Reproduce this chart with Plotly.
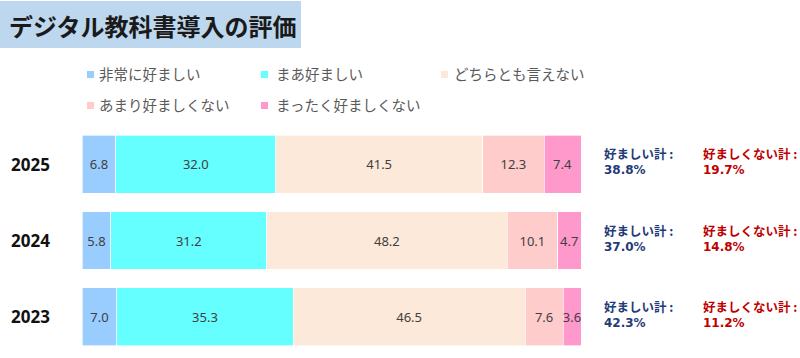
import plotly.graph_objects as go

years = ["2023", "2024", "2025"]
categories = ["非常に好ましい", "まあ好ましい", "どちらとも言えない", "あまり好ましくない", "まったく好ましくない"]
very_good = [7.0, 5.8, 6.8]
fairly_good = [35.3, 31.2, 32.0]
neutral = [46.5, 48.2, 41.5]
fairly_bad = [7.6, 10.1, 12.3]
very_bad = [3.6, 4.7, 7.4]
good_total = ["42.3%", "37.0%", "38.8%"]
bad_total = ["11.2%", "14.8%", "19.7%"]
good_label = "好ましい計 :"
bad_label = "好ましくない計 :"
title_text = "デジタル教科書導入の評価"

series = [very_good, fairly_good, neutral, fairly_bad, very_bad]
colors = ["#99CCFF", "#66FFFF", "#FDE9D9", "#FFCCCC", "#FF99CC"]

W, H = 800, 358
L, R = 82, 581
T, B = 126, 355

def px_x(px):
    return (px - L) / (R - L)

def px_y(py):
    return (B - py) / (B - T)

fig = go.Figure()
for name, vals, col in zip(categories, series, colors):
    fig.add_trace(go.Bar(
        y=years, x=vals, name=name, orientation="h",
        marker=dict(color=col, line=dict(color="rgba(255,255,255,0.8)", width=0.8)),
        text=[f"{v:.1f}" for v in vals], textposition="inside",
        insidetextanchor="middle", textangle=0,
        textfont=dict(family="Noto Sans, DejaVu Sans", size=13, color="#404040"),
        showlegend=False, hoverinfo="skip",
    ))

annotations = []
shapes = []

# title box
shapes.append(dict(type="rect", xref="paper", yref="paper",
                   x0=px_x(0), x1=px_x(301), y0=px_y(48), y1=px_y(1),
                   fillcolor="#BDD7EE", line=dict(width=0), layer="below"))
annotations.append(dict(text=f"<b>{title_text}</b>", xref="paper", yref="paper",
                        x=px_x(7), y=px_y(25), xanchor="left", yanchor="middle",
                        showarrow=False,
                        font=dict(family="Noto Sans CJK JP", size=24, color="#1a1a1a")))

# legend
legend_pos = [(87, 71, 97), (261, 71, 274), (441, 71, 452), (87, 102, 97), (261, 102, 274)]
for (mx, my, tx), name, col in zip(legend_pos, categories, colors):
    shapes.append(dict(type="rect", xref="paper", yref="paper",
                       x0=px_x(mx), x1=px_x(mx + 7), y0=px_y(my + 7), y1=px_y(my),
                       fillcolor=col, line=dict(width=0)))
    annotations.append(dict(text=name, xref="paper", yref="paper",
                            x=px_x(tx), y=px_y(my + 3), xanchor="left", yanchor="middle",
                            showarrow=False,
                            font=dict(family="Noto Sans CJK JP", size=14.5, color="#595959")))

NAVY, RED = "#1F3B78", "#C00000"
# year labels and totals (y given as category index)
for i, (yr, g, b) in enumerate(zip(years, good_total, bad_total)):
    annotations.append(dict(text=f"<b>{yr}</b>", xref="paper", yref="y", x=px_x(9), y=i,
                            xanchor="left", yanchor="middle", showarrow=False,
                            font=dict(family="Noto Sans", size=17, color="#111111")))
    for xpix, label, val, col in [(602, good_label, g, NAVY), (701, bad_label, b, RED)]:
        annotations.append(dict(text=f"<b>{label}</b>", xref="paper", yref="y",
                                x=px_x(xpix), y=i, xanchor="left", yanchor="middle",
                                showarrow=False, yshift=10.5,
                                font=dict(family="Noto Sans CJK JP", size=12.5, color=col)))
        annotations.append(dict(text=f"<b>{val}</b>", xref="paper", yref="y",
                                x=px_x(xpix), y=i, xanchor="left", yanchor="middle",
                                showarrow=False, yshift=-6,
                                font=dict(family="DejaVu Sans", size=12, color=col)))

fig.update_layout(
    width=W, height=H,
    margin=dict(l=L, r=W - R, t=T, b=H - B),
    barmode="stack", bargap=0.242,
    plot_bgcolor="white", paper_bgcolor="white",
    xaxis=dict(range=[0, 100], visible=False, fixedrange=True),
    yaxis=dict(type="category", categoryorder="array", categoryarray=years,
               range=[-0.5, len(years) - 0.5], autorange=False,
               showticklabels=False, showgrid=False, zeroline=False, fixedrange=True),
    uniformtext=dict(minsize=13, mode="show"),
    annotations=annotations, shapes=shapes,
)

fig.write_html("out.html", config={"displayModeBar": False},
               post_script="document.body.style.margin='0';document.body.style.overflow='hidden';")
